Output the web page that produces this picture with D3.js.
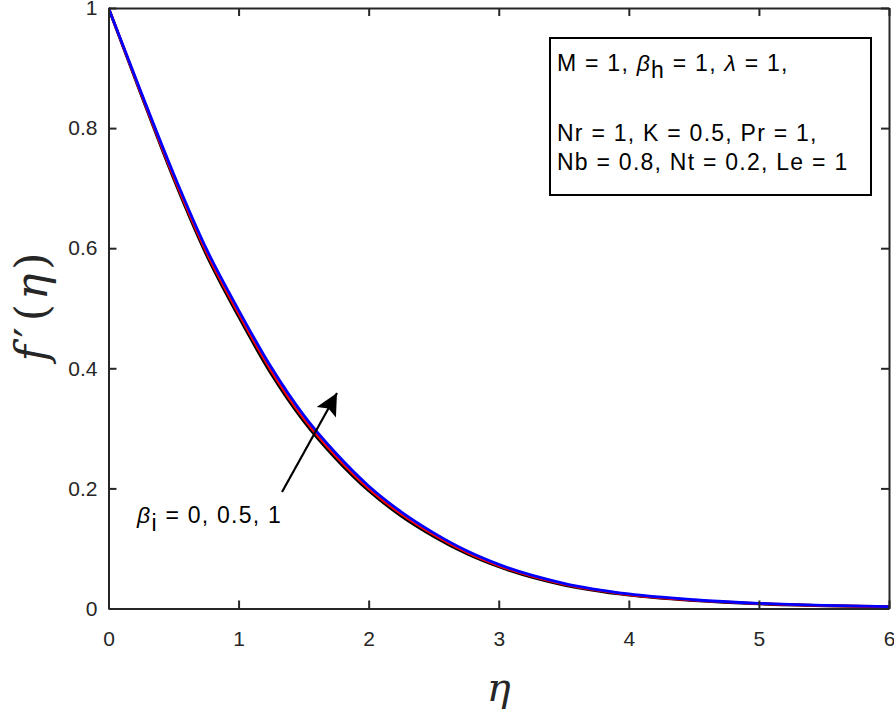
<!DOCTYPE html>
<html>
<head>
<meta charset="utf-8">
<script src="https://cdn.jsdelivr.net/npm/d3@7"></script>
<style>
  body { margin: 0; background: #fff; }
  svg { display: block; }
</style>
</head>
<body>
<div id="chart"></div>
<script>
// eta grid and f'(eta) for beta_i = 0, 0.5, 1
var eta = [0, 0.25, 0.5, 0.75, 1, 1.25, 1.5, 1.75, 2, 2.25, 2.5, 2.75, 3, 3.5, 4, 4.5, 5, 5.5, 6];
var fBeta0 = [1, 0.856, 0.716, 0.590, 0.486, 0.391, 0.312, 0.249, 0.196, 0.154, 0.120, 0.0916, 0.0695, 0.039, 0.0222, 0.0132, 0.0077, 0.0046, 0.0028];
var fBeta05 = [1, 0.858, 0.720, 0.595, 0.4915, 0.3965, 0.317, 0.2535, 0.200, 0.1575, 0.123, 0.0941, 0.0715, 0.0405, 0.0232, 0.0139, 0.0082, 0.0049, 0.0030];
var fBeta1 = [1, 0.860, 0.724, 0.600, 0.497, 0.402, 0.322, 0.258, 0.204, 0.161, 0.126, 0.0966, 0.0735, 0.042, 0.0242, 0.0146, 0.0087, 0.0052, 0.0032];

var xTicks = [0, 1, 2, 3, 4, 5, 6];
var yTicks = [0, 0.2, 0.4, 0.6, 0.8, 1];
var seriesColors = ["#000000", "#ff0000", "#0000ff"];
var paramLines = ["Nr = 1, K = 0.5, Pr = 1,", "Nb = 0.8, Nt = 0.2, Le = 1"];

var width = 894, height = 726;
var plotL = 108.5, plotR = 889, plotT = 8, plotB = 608.5;
var axisColor = "#262626";
var annoFont = { size: "23px", spacing: "1.25px" };

var svg = d3.select("#chart").append("svg")
  .attr("width", width)
  .attr("height", height)
  .style("font-family", "'Liberation Sans', Arial, sans-serif");

var x = d3.scaleLinear().domain([0, 6]).range([plotL, plotR]);
var y = d3.scaleLinear().domain([0, 1]).range([plotB, plotT]);

// clip for the curves
svg.append("clipPath").attr("id", "plotClip")
  .append("rect")
  .attr("x", plotL).attr("y", plotT - 2)
  .attr("width", plotR - plotL).attr("height", plotB - plotT + 2);

var line = d3.line()
  .x(function(d) { return x(d[0]); })
  .y(function(d) { return y(d[1]); })
  .curve(d3.curveMonotoneX);

var curves = svg.append("g").attr("clip-path", "url(#plotClip)");
[fBeta0, fBeta05, fBeta1].forEach(function(vals, i) {
  curves.append("path")
    .datum(eta.map(function(e, j) { return [e, vals[j]]; }))
    .attr("d", line)
    .attr("fill", "none")
    .attr("stroke", seriesColors[i])
    .attr("stroke-width", 2.8);
});

// axes, ticks pointing inward, mirrored on top/right
function styleAxis(g) {
  g.selectAll("path.domain").attr("stroke", axisColor).attr("stroke-width", 2).attr("fill", "none");
  g.selectAll(".tick line").attr("stroke", axisColor).attr("stroke-width", 2);
  g.selectAll(".tick text").attr("fill", axisColor)
    .style("font-size", "21px")
    .style("font-family", "'Liberation Sans', Arial, sans-serif");
}

svg.append("g")
  .attr("transform", "translate(0," + plotB + ")")
  .call(d3.axisBottom(x).tickValues(xTicks).tickFormat(d3.format("d"))
    .tickSizeInner(-8).tickSizeOuter(0).tickPadding(23))
  .call(styleAxis);

svg.append("g")
  .attr("transform", "translate(0," + plotT + ")")
  .call(d3.axisTop(x).tickValues(xTicks).tickFormat("")
    .tickSizeInner(-8).tickSizeOuter(0))
  .call(styleAxis);

svg.append("g")
  .attr("transform", "translate(" + plotL + ",0)")
  .call(d3.axisLeft(y).tickValues(yTicks).tickFormat(function(d) { return String(d); })
    .tickSizeInner(-8).tickSizeOuter(0).tickPadding(11))
  .call(styleAxis);

svg.append("g")
  .attr("transform", "translate(" + plotR + ",0)")
  .call(d3.axisRight(y).tickValues(yTicks).tickFormat("")
    .tickSizeInner(-8).tickSizeOuter(0))
  .call(styleAxis);

// axis titles
svg.append("text")
  .attr("x", x(3))
  .attr("y", 701)
  .attr("text-anchor", "middle")
  .attr("fill", axisColor)
  .style("font-family", "'DejaVu Serif', serif")
  .style("font-style", "italic")
  .style("font-size", "40px")
  .text("η");

var yTitle = svg.append("text")
  .attr("transform", "translate(47,305) rotate(-90)")
  .attr("text-anchor", "middle")
  .attr("fill", axisColor)
  .style("font-family", "'DejaVu Serif', serif")
  .style("font-size", "44px")
  .style("letter-spacing", "4px");
yTitle.append("tspan").style("font-style", "italic").text("f");
yTitle.append("tspan").attr("dx", 4).style("font-family", "'DejaVu Sans', sans-serif").text("′");
yTitle.append("tspan").attr("dx", 2).text("(");
yTitle.append("tspan").style("font-style", "italic").text("η");
yTitle.append("tspan").text(")");

// parameter box
var box = svg.append("g")
  .style("font-size", annoFont.size)
  .style("letter-spacing", annoFont.spacing);
box.append("rect")
  .attr("x", 550).attr("y", 38)
  .attr("width", 321).attr("height", 157)
  .attr("fill", "#fff")
  .attr("stroke", "#000")
  .attr("stroke-width", 2);

var t1 = box.append("text")
  .attr("x", 557).attr("y", 71);
t1.append("tspan").text("M = 1, ");
t1.append("tspan").style("font-style", "italic").text("β");
t1.append("tspan").attr("dy", 7).text("h");
t1.append("tspan").attr("dy", -7).text(" = 1, ");
t1.append("tspan").style("font-style", "italic").text("λ");
t1.append("tspan").text(" = 1,");

box.selectAll("text.param")
  .data(paramLines)
  .enter().append("text")
  .attr("class", "param")
  .attr("x", 557)
  .attr("y", function(d, i) { return 141 + i * 29; })
  .text(function(d) { return d; });

// arrow annotation
svg.append("defs").append("marker")
  .attr("id", "head")
  .attr("viewBox", "0 0 10 10")
  .attr("refX", 10).attr("refY", 5)
  .attr("markerUnits", "userSpaceOnUse")
  .attr("markerWidth", 28).attr("markerHeight", 22)
  .attr("orient", "auto")
  .append("path")
  .attr("d", "M0,0 L10,5 L0,10 L2,5 Z")
  .attr("fill", "#000");

svg.append("line")
  .attr("x1", 282).attr("y1", 492)
  .attr("x2", 337).attr("y2", 393)
  .attr("stroke", "#000")
  .attr("stroke-width", 2.2)
  .attr("marker-end", "url(#head)");

var lab = svg.append("text")
  .attr("x", 137).attr("y", 523)
  .style("font-size", annoFont.size)
  .style("letter-spacing", annoFont.spacing);
lab.append("tspan").style("font-style", "italic").text("β");
lab.append("tspan").attr("dy", 8).text("i");
lab.append("tspan").attr("dy", -8).text(" = 0, 0.5, 1");
</script>
</body>
</html>
